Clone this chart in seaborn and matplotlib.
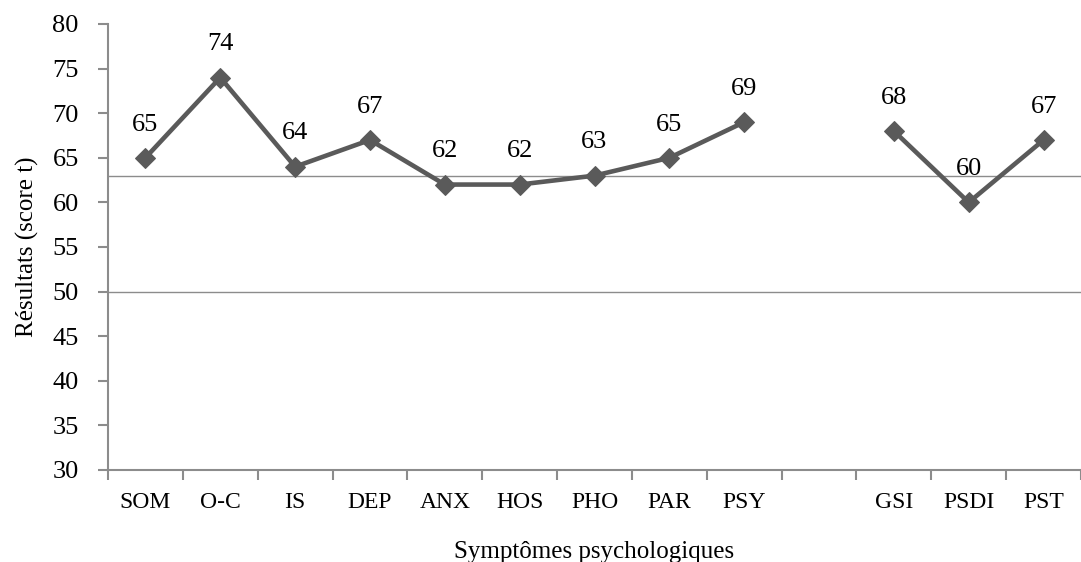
import numpy as np
import pandas as pd
import matplotlib
matplotlib.use("Agg")
import matplotlib.pyplot as plt
import seaborn as sns

categories = ["SOM", "O-C", "IS", "DEP", "ANX", "HOS", "PHO", "PAR", "PSY", "", "GSI", "PSDI", "PST"]
values = [65, 74, 64, 67, 62, 62, 63, 65, 69, np.nan, 68, 60, 67]
groups = ["a"] * 9 + ["gap"] + ["b"] * 3
ref_lines = [63, 50]

sns.set_theme(style="white")
plt.rcParams["font.family"] = ["Liberation Serif", "DejaVu Serif"]

df = pd.DataFrame({"pos": np.arange(len(categories)), "val": values, "grp": groups})
df = df.dropna()

fig = plt.figure(figsize=(10.81, 5.62), dpi=100)
ax = fig.add_axes([108/1081, 1 - 470/562, 1 - 108/1081, (470 - 24)/562])

for y in ref_lines:
    ax.axhline(y, color="#8c8c8c", lw=1.0, zorder=1)

line_color = "#5a5a5a"
for g in ["a", "b"]:
    sub = df[df["grp"] == g]
    sns.lineplot(data=sub, x="pos", y="val", ax=ax, color=line_color, lw=3.3,
                 marker="D", markersize=10.5, markeredgecolor=line_color,
                 markerfacecolor=line_color, estimator=None, zorder=3)

for p, v in zip(df["pos"], df["val"]):
    ax.annotate(f"{int(v)}", (p, v), xytext=(0, 16), textcoords="offset points",
                ha="center", va="bottom", fontsize=19, color="black")

ax.set_ylim(30, 80)
ax.set_yticks(np.arange(30, 81, 5))
ax.set_xlim(-0.5, 12.3)
ax.set_xticks(np.arange(len(categories)))
ax.set_xticklabels(categories)
ax.set_xticks(np.arange(len(categories) + 1) - 0.5, minor=True)

ax.tick_params(axis="x", which="major", bottom=False, length=0, pad=16, labelsize=17)
ax.tick_params(axis="x", which="minor", bottom=True, length=7, width=1.5, color="#8c8c8c", direction="out")
ax.tick_params(axis="y", which="major", left=True, length=7, width=1.5, color="#8c8c8c", direction="out",
               labelsize=19, pad=14, labelcolor="black")
ax.tick_params(axis="x", labelcolor="black")

for s in ["top", "right"]:
    ax.spines[s].set_visible(False)
for s in ["left", "bottom"]:
    ax.spines[s].set_color("#8c8c8c")
    ax.spines[s].set_linewidth(1.5)

ax.set_xlabel("Symptômes psychologiques", fontsize=18, labelpad=20, color="black")
ax.set_ylabel("Résultats (score t)", fontsize=18, labelpad=10, color="black")

fig.savefig("out.png", dpi=100)
